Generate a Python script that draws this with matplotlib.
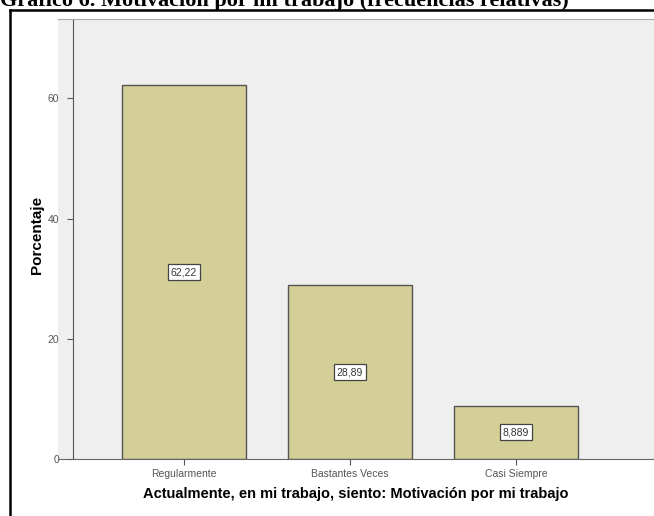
import matplotlib
matplotlib.use("Agg")
import matplotlib.pyplot as plt
from matplotlib.lines import Line2D

# datos del gráfico
categorias = ["Regularmente", "Bastantes Veces", "Casi Siempre"]
porcentajes = [62.22, 28.89, 8.889]
etiquetas = ["62,22", "28,89", "8,889"]
yticks = [0, 20, 40, 60]

W, H = 654, 516
plt.rcParams["font.family"] = ["Liberation Sans", "DejaVu Sans"]

fig = plt.figure(figsize=(W / 100, H / 100), dpi=100)


def px(x0, y0, x1, y1):
    # caja en pixeles (origen arriba a la izquierda) -> coords de figura
    return [x0 / W, 1 - y1 / H, (x1 - x0) / W, (y1 - y0) / H]


# titulo cortado arriba (asi viene en la imagen original)
fig.text(0.0, 1 - 6 / H, "Gráfico 6. Motivación por mi trabajo (frecuencias relativas)",
         fontsize=16, fontweight="bold", family="Liberation Serif",
         ha="left", va="baseline")

# marco exterior
fig.add_artist(Line2D([10 / W, 10 / W], [0, 1 - 10 / H], color="black", lw=1.8))
fig.add_artist(Line2D([10 / W, 1], [1 - 10 / H, 1 - 10 / H], color="black", lw=1.8))

ax = fig.add_axes(px(58, 19, 654, 459))
ax.set_facecolor("#efefef")

x = list(range(len(categorias)))
bars = ax.bar(x, porcentajes, width=0.75, color="#d4cf96",
              edgecolor="#555555", linewidth=1.0, zorder=2)
ax.bar_label(bars, labels=etiquetas, label_type="center", fontsize=7.5,
             color="#333333",
             bbox=dict(boxstyle="square,pad=0.3", fc="white", ec="#444444", lw=0.9))

ax.spines["left"].set_position(("data", -0.669))
ax.spines["left"].set_color("#555555")
ax.spines["bottom"].set_color("#666666")
ax.spines["top"].set_color("#aaaaaa")
ax.spines["right"].set_visible(False)

ax.set_xlim(-0.759, 2.831)
ax.set_ylim(0, 73.2)
ax.set_xticks(x)
ax.set_xticklabels(categorias)
ax.set_yticks(yticks)
ax.set_yticklabels([str(v) for v in yticks])
ax.tick_params(axis="both", direction="out", length=4, width=0.8,
               color="#555555", labelsize=7.5, labelcolor="#555555")
ax.tick_params(axis="y", pad=6)
ax.tick_params(axis="x", pad=3)

ax.set_xlabel("Actualmente, en mi trabajo, siento: Motivación por mi trabajo",
              fontsize=10.5, fontweight="bold", labelpad=6)
fig.text(37 / W, 1 - 235 / H, "Porcentaje", rotation=90, fontsize=11,
         fontweight="bold", ha="center", va="center")

fig.savefig("out.png", dpi=100)
